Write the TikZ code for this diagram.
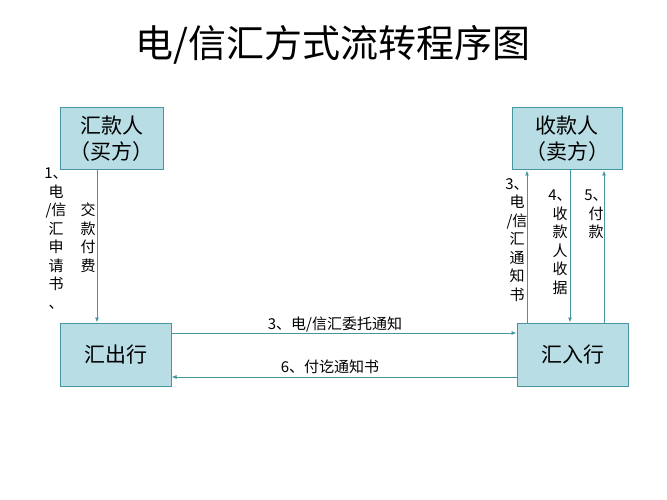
\documentclass[tikz,border=0pt]{standalone}
\usepackage{fontspec}
\newfontfamily\cjk{Noto Sans CJK SC}
\usetikzlibrary{arrows.meta}
\definecolor{boxfill}{RGB}{184,221,228}
\definecolor{boxline}{RGB}{70,150,160}
\begin{document}
\begin{tikzpicture}[x=1pt,y=-1pt,
  box/.style={draw=boxline,fill=boxfill,line width=1pt,font=\cjk\fontsize{21}{26}\selectfont,align=center,inner sep=0pt},
  conn/.style={draw=boxline,line width=0.8pt,-{Latex[length=5pt,width=4pt]}},
  lab/.style={font=\cjk\fontsize{15}{18.5}\selectfont,align=center,inner sep=0pt}]
\useasboundingbox (0,0) rectangle (667,500);
\node[font=\cjk\fontsize{38}{42}\selectfont] (title) at (333,45) {电/信汇方式流转程序图};
\node[box,minimum width=103pt,minimum height=62pt] (payer) at (111.5,139) {汇款人\\（买方）};
\node[box,minimum width=110pt,minimum height=62pt] (payee) at (567,139) {收款人\\（卖方）};
\node[box,minimum width=111pt,minimum height=63pt] (rbank) at (115.5,354.5) {汇出行};
\node[box,minimum width=111pt,minimum height=63pt] (pbank) at (572.5,354.5) {汇入行};
\draw[conn] (payer.south -| 97,0) -- (rbank.north -| 97,0);
\draw[conn] (rbank.east |- 0,333) -- (pbank.west |- 0,333);
\draw[conn] (pbank.west |- 0,377) -- (rbank.east |- 0,377);
\draw[conn] (pbank.north -| 527,0) -- (payee.south -| 527,0);
\draw[conn] (payee.south -| 570,0) -- (pbank.north -| 570,0);
\draw[conn] (pbank.north -| 604,0) -- (payee.south -| 604,0);
\node[lab,anchor=north] (l1) at (56,168) {1、\\电\\/信\\汇\\申\\请\\书\\、};
\node[lab,anchor=north] (l2) at (88,203) {交\\款\\付\\费};
\node[lab,anchor=north] (l3) at (517,178) {3、\\电\\/信\\汇\\通\\知\\书};
\node[lab,anchor=north] (l4) at (560,190) {4、\\收\\款\\人\\收\\据};
\node[lab,anchor=north] (l5) at (596,190) {5、\\付\\款};
\node[lab] (l6) at (335,325) {3、电/信汇委托通知};
\node[lab] (l7) at (330,367) {6、付讫通知书};
\end{tikzpicture}
\end{document}
